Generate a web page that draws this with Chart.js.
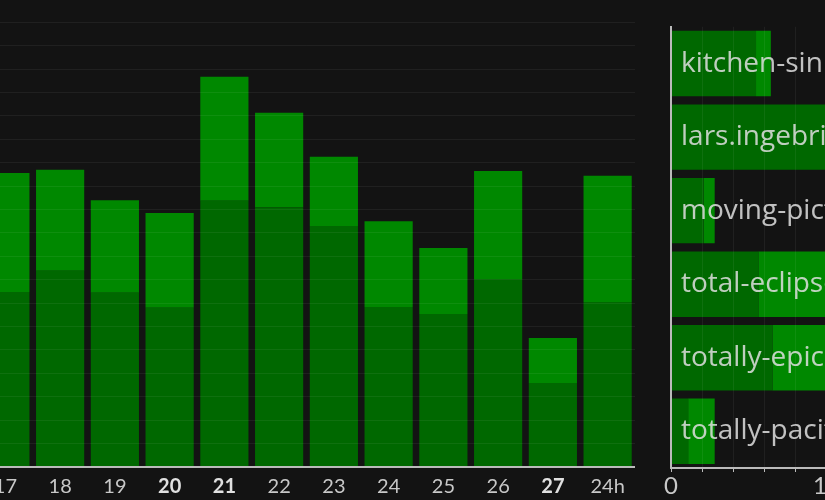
<!DOCTYPE html>
<html>
<head>
<meta charset="utf-8">
<script src="https://cdn.jsdelivr.net/npm/chart.js@4.4.0/dist/chart.umd.min.js"></script>
<style>
  html, body { margin: 0; padding: 0; background: #131313; }
  #page { position: relative; width: 825px; height: 500px; overflow: hidden; background: #131313; }
  #leftBox { position: absolute; left: -22px; top: 0; width: 657px; height: 500px; }
  #rightBox { position: absolute; left: 663px; top: 0; width: 360px; height: 500px; }
</style>
</head>
<body>
<div id="page">
  <div id="leftBox"><canvas id="dayChart"></canvas></div>
  <div id="rightBox"><canvas id="hostChart"></canvas></div>
</div>
<script>
// Per-day counts (two stacked parts)
const days = ['17', '18', '19', '20', '21', '22', '23', '24', '25', '26', '27', '24h'];
const boldDays = ['20', '21', '27'];
const dayBase = [7.48, 8.38, 7.44, 6.8, 11.37, 11.1, 10.3, 6.84, 6.54, 8.03, 3.59, 7.05];
const dayExtra = [5.08, 4.32, 3.96, 4.05, 5.3, 4.03, 2.95, 3.66, 2.82, 4.62, 1.92, 5.39];

// Per-host counts
const hosts = ['kitchen-sink', 'lars.ingebrigtsen', 'moving-pictures', 'total-eclipse', 'totally-epic', 'totally-pacific'];
const hostBase = [5.45, 11.5, 2.1, 5.6, 6.5, 1.1];
const hostExtra = [0.95, 1.0, 0.7, 5.0, 4.5, 1.7];
const hostTickLabels = [0, 10, 20];

const darkGreen = '#006800';
const lightGreen = '#008800';
const fontFamily = 'Lato, "Open Sans", sans-serif';
const faintGrid = 'rgba(255,255,255,0.06)';

// Day chart
new Chart(document.getElementById('dayChart'), {
    type: 'bar',
    data: {
        labels: days,
        datasets: [
            { data: dayBase, backgroundColor: darkGreen, borderWidth: 0 },
            { data: dayExtra, backgroundColor: lightGreen, borderWidth: 0 }
        ]
    },
    options: {
        responsive: true,
        maintainAspectRatio: false,
        animation: false,
        layout: { padding: 0 },
        datasets: { bar: { categoryPercentage: 1, barPercentage: 0.88 } },
        plugins: { legend: { display: false }, tooltip: { enabled: false } },
        scales: {
            x: {
                stacked: true,
                grid: { display: false, drawTicks: false },
                border: { display: true, color: '#bbb', width: 2, z: 1 },
                ticks: {
                    padding: 8,
                    maxRotation: 0,
                    autoSkip: false,
                    color: function(c) {
                        return boldDays.includes(days[c.index]) ? '#e0e0e0' : '#c8c8c8';
                    },
                    font: function(c) {
                        return {
                            family: fontFamily,
                            size: 20,
                            weight: boldDays.includes(days[c.index]) ? 'bold' : 'normal'
                        };
                    }
                },
                afterFit: function(scale) { scale.height = 33; }
            },
            y: {
                stacked: true,
                min: 0,
                max: 19.95,
                ticks: { display: false, stepSize: 1 },
                grid: {
                    z: 1,
                    drawTicks: false,
                    color: function(c) {
                        return (c.tick && Number.isInteger(c.tick.value) && c.tick.value > 0) ? faintGrid : 'transparent';
                    }
                },
                border: { display: false },
                afterFit: function(scale) { scale.width = 0; }
            }
        }
    }
});

// Host chart
new Chart(document.getElementById('hostChart'), {
    type: 'bar',
    data: {
        labels: hosts,
        datasets: [
            { data: hostBase, backgroundColor: darkGreen, borderWidth: 0 },
            { data: hostExtra, backgroundColor: lightGreen, borderWidth: 0 }
        ]
    },
    options: {
        indexAxis: 'y',
        responsive: true,
        maintainAspectRatio: false,
        animation: false,
        layout: { padding: { top: 23, right: 40, bottom: 0, left: 0 } },
        datasets: { bar: { categoryPercentage: 1, barPercentage: 0.89 } },
        plugins: { legend: { display: false }, tooltip: { enabled: false } },
        scales: {
            x: {
                stacked: true,
                min: 0,
                max: 20,
                ticks: {
                    stepSize: 2,
                    autoSkip: false,
                    maxRotation: 0,
                    padding: 0,
                    color: '#c8c8c8',
                    font: { family: fontFamily, size: 24 },
                    callback: function(v) { return hostTickLabels.includes(v) ? String(v) : ''; }
                },
                grid: { z: 1, color: faintGrid, tickColor: '#bbb', tickLength: 4 },
                border: { display: true, color: '#bbb', width: 2, z: 1 },
                afterFit: function(scale) { scale.height = 32; }
            },
            y: {
                stacked: true,
                ticks: {
                    z: 1,
                    mirror: true,
                    padding: 10,
                    color: 'rgba(225,225,225,0.85)',
                    font: { family: '"Open Sans", Lato, sans-serif', size: 28 }
                },
                grid: { display: false, drawTicks: false },
                border: { display: true, color: '#bbb', width: 2, z: 1 },
                afterFit: function(scale) { scale.width = 8; }
            }
        }
    }
});
</script>
</body>
</html>
